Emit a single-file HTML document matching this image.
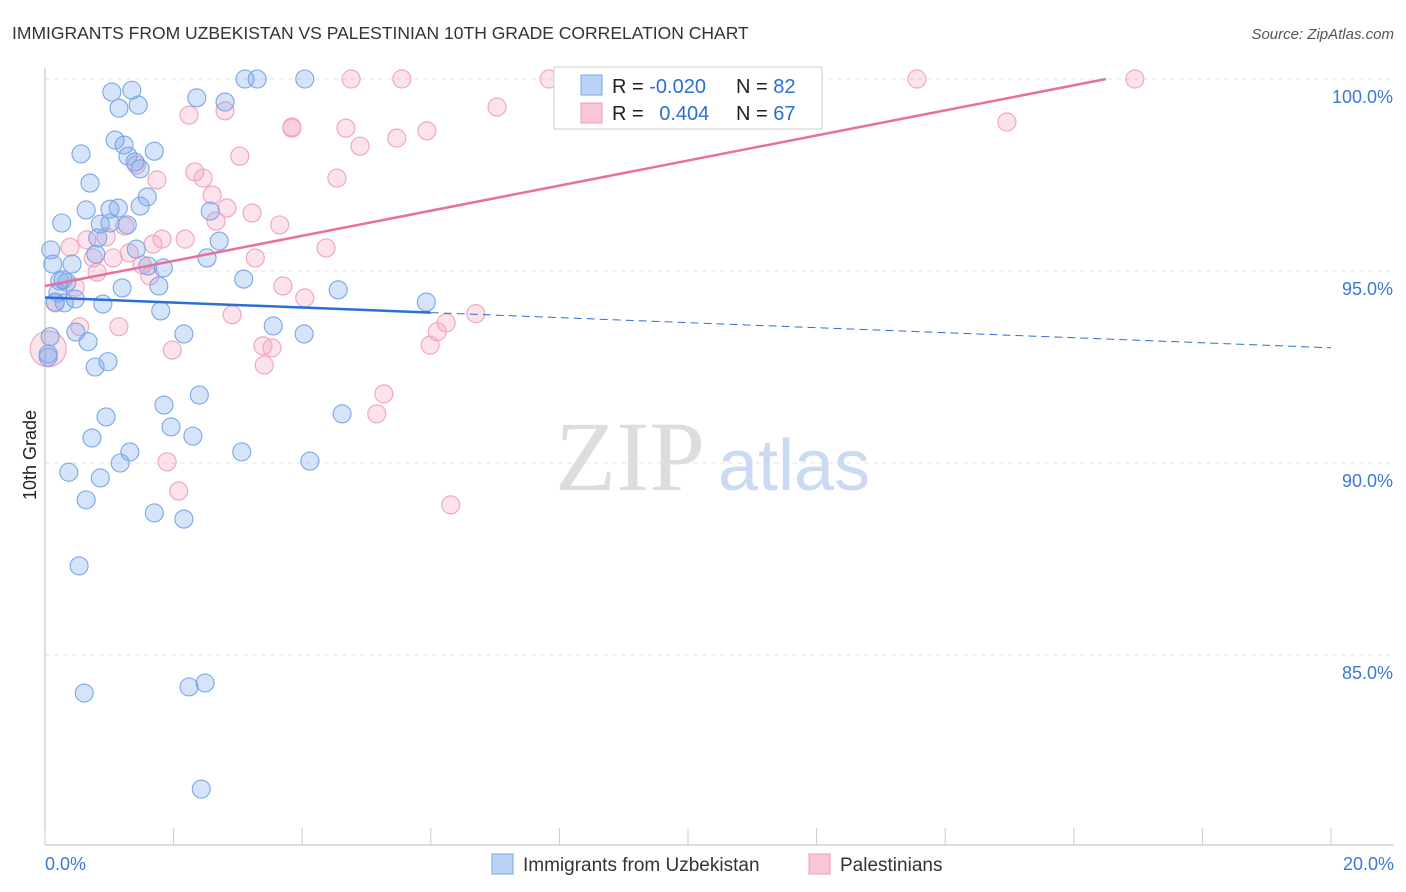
<!DOCTYPE html>
<html><head><meta charset="utf-8"><style>
body{margin:0;background:#fff;font-family:"Liberation Sans",sans-serif;}
svg{display:block}
</style></head><body>
<svg id="chart" width="1406" height="892">
<text x="12" y="39" font-size="17.5" fill="#333">IMMIGRANTS FROM UZBEKISTAN VS PALESTINIAN 10TH GRADE CORRELATION CHART</text>
<text x="1394" y="39" font-size="15" fill="#555" text-anchor="end" font-style="italic">Source: ZipAtlas.com</text>
<text x="36" y="455" font-size="18" fill="#222" transform="rotate(-90 36 455)" text-anchor="middle">10th Grade</text>
<g id="grid"></g>
<text x="555" y="490" font-size="100" fill="#ddd" font-family="Liberation Serif,serif">ZIP</text>
<text x="718" y="490" font-size="72" fill="#c9daf2">atlas</text>
<g id="pts"></g>
<g id="trend"></g>
<g>
<rect x="554" y="67" width="268" height="62" fill="#fff" stroke="#ccc"/>
<rect x="581" y="75" width="21" height="20" fill="#b9d3f5" stroke="#7aa6e6"/>
<rect x="581" y="103" width="21" height="20" fill="#f9c6d5" stroke="#ee9cb8"/>
<text x="612" y="93" font-size="20" fill="#222">R = <tspan fill="#2a6fd6">-0.020</tspan></text>
<text x="736" y="93" font-size="20" fill="#222">N = <tspan fill="#2a6fd6">82</tspan></text>
<text x="612" y="120" font-size="20" fill="#222">R = <tspan fill="#2a6fd6" dx="10">0.404</tspan></text>
<text x="736" y="120" font-size="20" fill="#222">N = <tspan fill="#2a6fd6">67</tspan></text>
</g>
<g>
<rect x="492" y="854" width="21" height="20" fill="#b9d3f5" stroke="#7aa6e6"/>
<text x="523" y="871" font-size="19" fill="#333">Immigrants from Uzbekistan</text>
<rect x="809" y="854" width="21" height="20" fill="#f9c6d5" stroke="#ee9cb8"/>
<text x="840" y="871" font-size="19" fill="#333">Palestinians</text>
</g>
</svg>
<script>
const yTicks=[100,95,90,85];
const yTickLabels=["100.0%","95.0%","90.0%","85.0%"];
const xTicks=[0,2,4,6,8,10,12,14,16,18,20];
const blueX=[1.04,1.35,1.15,1.45,3.11,3.30,4.04,2.36,2.80,1.09,1.23,1.29,1.70,0.56,1.48,1.40,0.70,1.59,0.26,0.64,1.01,1.14,1.48,2.57,0.86,1.28,1.01,0.82,2.71,0.09,0.79,1.42,1.60,1.84,2.52,0.12,0.42,0.28,3.09,0.23,0.34,1.20,1.77,4.56,0.20,0.47,0.16,0.30,0.90,1.80,5.93,3.55,4.03,2.16,0.48,0.08,0.67,0.98,0.78,0.05,0.05,2.40,1.85,0.95,4.62,1.96,2.30,0.73,1.32,3.06,1.17,4.12,0.37,0.86,0.64,1.70,2.16,0.53,0.61,2.24,2.49,2.43];
const blueY=[99.66,99.71,99.24,99.32,100,100,100,99.51,99.40,98.41,98.28,97.99,98.12,98.05,97.66,97.84,97.29,96.93,96.25,96.59,96.61,96.64,96.69,96.56,96.22,96.20,96.25,95.86,95.78,95.55,95.44,95.57,95.13,95.08,95.34,95.18,95.18,94.77,94.79,94.74,94.71,94.56,94.61,94.51,94.43,94.27,94.19,94.17,94.14,93.96,94.19,93.57,93.36,93.36,93.41,93.29,93.16,92.64,92.50,92.84,92.76,91.77,91.51,91.20,91.28,90.94,90.70,90.65,90.29,90.29,90.0,90.05,89.76,89.61,89.04,88.70,88.54,87.32,84.01,84.17,84.27,81.51];
const pinkX=[4.76,5.55,7.84,11.79,13.56,16.95,7.03,2.24,2.80,3.84,3.84,4.68,5.94,5.47,4.90,14.96,3.03,1.42,2.33,1.74,2.46,2.60,4.54,2.83,3.22,2.66,3.65,1.24,0.39,0.65,0.95,1.68,1.82,1.31,0.75,1.06,1.51,4.37,3.27,0.81,1.63,0.47,3.70,4.04,0.16,0.54,1.15,2.91,6.70,6.24,6.10,5.99,3.39,3.53,1.98,3.41,5.27,5.16,1.90,2.08,6.31,0.05,2.18];
const pinkY=[100,100,100,100,100,100,99.27,99.06,99.17,98.75,98.72,98.72,98.65,98.46,98.25,98.88,97.99,97.76,97.58,97.37,97.42,96.98,97.42,96.64,96.51,96.30,96.20,96.17,95.62,95.81,95.89,95.70,95.83,95.47,95.34,95.34,95.16,95.60,95.34,94.97,94.87,94.58,94.61,94.30,94.17,93.55,93.55,93.86,93.89,93.65,93.42,93.07,93.05,93.00,92.94,92.55,91.80,91.28,90.03,89.27,88.91,92.97,95.83];
const blueTrend=[-0.020,94.31,93.00];
const pinkTrend=[94.61,100];
const X=v=>45+v*64.3, Y=v=>79+(100-v)*38.4;
const NS="http://www.w3.org/2000/svg";
function mk(tag,attrs,parent){const e=document.createElementNS(NS,tag);for(const k in attrs)e.setAttribute(k,attrs[k]);parent.appendChild(e);return e;}
const grid=document.getElementById('grid');
const axis=mk('line',{x1:45,y1:68,x2:45,y2:845,stroke:'#bbb'},grid);


const xaxis=mk('line',{x1:45,y1:845,x2:1394,y2:845,stroke:'#bbb'},grid);


yTicks.forEach((t,i)=>{
 const g=mk('line',{x1:45,y1:Y(t),x2:1394,y2:Y(t),stroke:'#e4e4e4','stroke-dasharray':'5,4'},grid);
 
 
 const tx=mk('text',{x:1393,y:Y(t)+24,'font-size':18,fill:'#3b78d8','text-anchor':'end'},grid);
 tx.textContent=yTickLabels[i];
 
 
});
xTicks.forEach(t=>{
 const l=mk('line',{x1:X(t),y1:828,x2:X(t),y2:845,stroke:'#ccc'},grid);
 
 
});
const x0=mk('text',{x:45,y:870,'font-size':18,fill:'#3b78d8'},grid);x0.textContent='0.0%';


const x1=mk('text',{x:1394,y:870,'font-size':18,fill:'#3b78d8','text-anchor':'end'},grid);x1.textContent='20.0%';


const pts=document.getElementById('pts');
pinkX.forEach((v,i)=>{
 const c=mk('circle',{cx:X(v),cy:Y(pinkY[i]),r:i==61?18:9,fill:'rgba(244,160,188,0.3)',stroke:'#f0a8c0','stroke-width':1.2},pts);
 
 
});
blueX.forEach((v,i)=>{
 const c=mk('circle',{cx:X(v),cy:Y(blueY[i]),r:9,fill:'rgba(120,165,235,0.3)',stroke:'#7aa6e6','stroke-width':1.1},pts);
 
 
});
const tr=document.getElementById('trend');
const slopeB=(blueTrend[2]-blueTrend[1])/20;
const b1=mk('line',{x1:X(0),y1:Y(blueTrend[1]),x2:X(6),y2:Y(blueTrend[1]+slopeB*6),stroke:'#2a6fd6','stroke-width':2.5},tr);


const b2=mk('line',{x1:X(6),y1:Y(blueTrend[1]+slopeB*6),x2:X(20),y2:Y(blueTrend[2]),stroke:'#2a6fd6','stroke-width':1,'stroke-dasharray':'8,5'},tr);


const p1=mk('line',{x1:X(0),y1:Y(pinkTrend[0]),x2:X(16.5),y2:Y(pinkTrend[1]),stroke:'#e8709a','stroke-width':2.5},tr);


</script>
</body></html>
